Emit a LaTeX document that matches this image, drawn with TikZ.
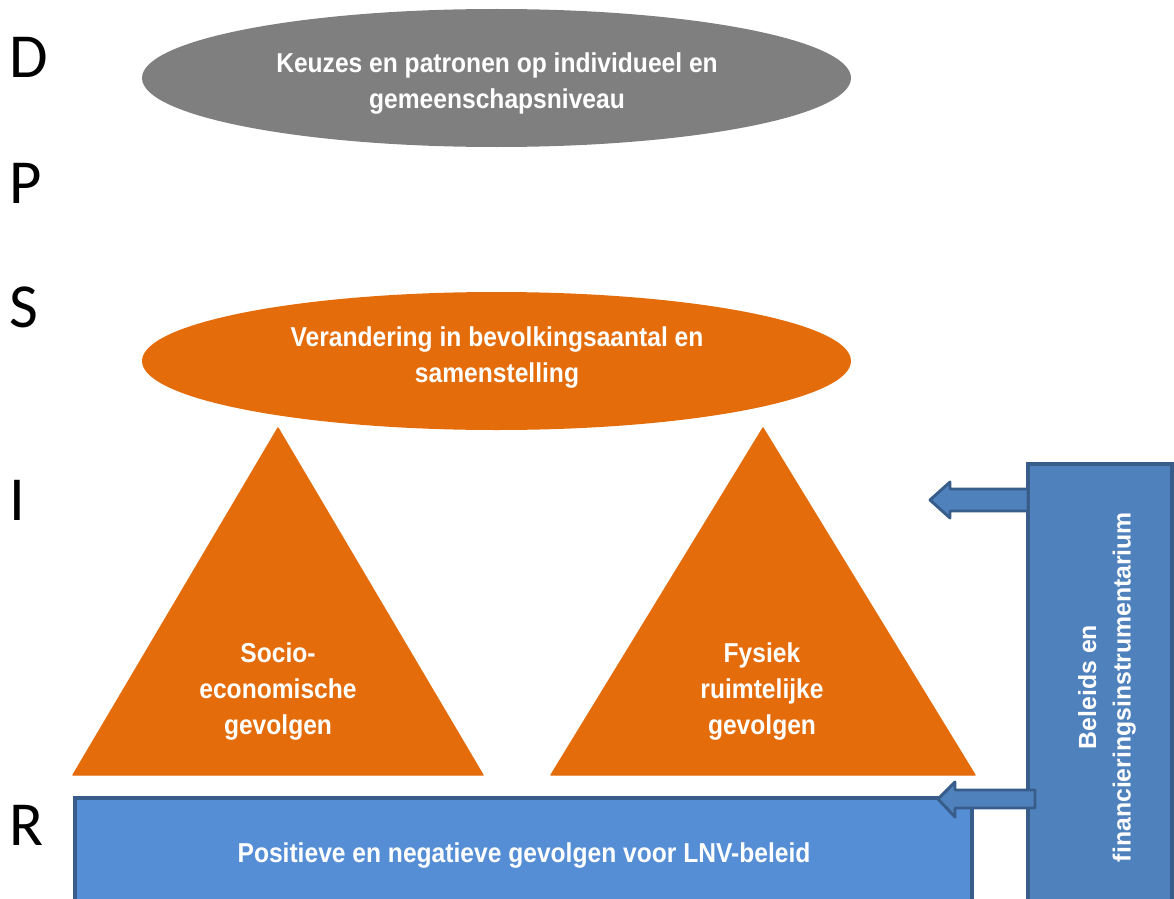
\documentclass[tikz,border=0pt]{standalone}
\usepackage{fontspec}
\usetikzlibrary{shapes.geometric}
\newfontfamily\condfont{Liberation Sans}[FakeStretch=0.9]
\newfontfamily\boxfont{Liberation Sans}
\newfontfamily\letterfont{Carlito}
\definecolor{dgrey}{HTML}{7F7F7F}
\definecolor{orng}{HTML}{E46C0A}
\definecolor{lblue}{HTML}{558ED5}
\definecolor{mblue}{HTML}{4F81BD}
\definecolor{bord}{HTML}{385D8A}
\tikzset{
  letter/.style={anchor=west, inner sep=0pt, font=\letterfont\fontsize{47}{47}\selectfont},
  condtext/.style={anchor=north, inner sep=0pt, align=center, text=white,
    font=\condfont\bfseries\fontsize{20.5}{27}\selectfont},
  ellipsenode/.style={ellipse, inner sep=0pt, minimum width=531.75pt, minimum height=103.5pt},
  tri/.style={fill=orng, draw=orng, line join=round, line width=1pt},
  boxstyle/.style={draw=bord, line width=3pt},
  blockarrow/.style={fill=mblue, draw=bord, line width=2.2pt, line join=round}
}
\begin{document}
\begin{tikzpicture}[x=0.75pt,y=-0.75pt]
\useasboundingbox (0,0) rectangle (1174,899);
% DPSIR letters
\node[letter] (lD) at (9,57) {D};
\node[letter] (lP) at (9,183) {P};
\node[letter] (lS) at (9,307) {S};
\node[letter] (lI) at (9,500) {I};
\node[letter] (lR) at (9,825) {R};
% ellipses
\node[ellipsenode, fill=dgrey] (driver) at (496.5,78) {};
\node[condtext] (drivertxt) at (497,52) {Keuzes en patronen op individueel en\\gemeenschapsniveau};
\node[ellipsenode, fill=orng] (state) at (496.5,361) {};
\node[condtext] (statetxt) at (497,326) {Verandering in bevolkingsaantal en\\samenstelling};
% triangles
\path[tri] (278,428) -- (483,775) -- (73,775) -- cycle;
\node[condtext] (soc) at (278,642) {Socio-\\economische\\gevolgen};
\path[tri] (763,428) -- (975,775) -- (551,775) -- cycle;
\node[condtext] (fys) at (762,642) {Fysiek\\ruimtelijke\\gevolgen};
% bottom response box
\path[boxstyle, fill=lblue] (75,798) rectangle (972,910);
\node[condtext] (resp) at (524,842) {Positieve en negatieve gevolgen voor LNV-beleid};
% right policy box
\path[boxstyle, fill=mblue] (1028,464) rectangle (1172,910);
\node[rotate=90, inner sep=0pt, align=center, text=white,
  font=\boxfont\bfseries\fontsize{18.6}{26}\selectfont] (policy) at (1107,687)
  {Beleids en\\financieringsinstrumentarium};
% block arrows
\coordinate (a1) at (1028,500);
\coordinate (a2) at (1035,799);
\path[blockarrow] (a1) ++(0,-11) -- ++(-78,0) -- ++(0,-7) -- ++(-20,18) -- ++(20,18) -- ++(0,-7) -- ++(78,0) -- cycle;
\path[blockarrow] (a2) ++(0,-9) -- ++(-80,0) -- ++(0,-8) -- ++(-17,17) -- ++(17,18) -- ++(0,-9) -- ++(80,0) -- cycle;
\end{tikzpicture}
\end{document}
